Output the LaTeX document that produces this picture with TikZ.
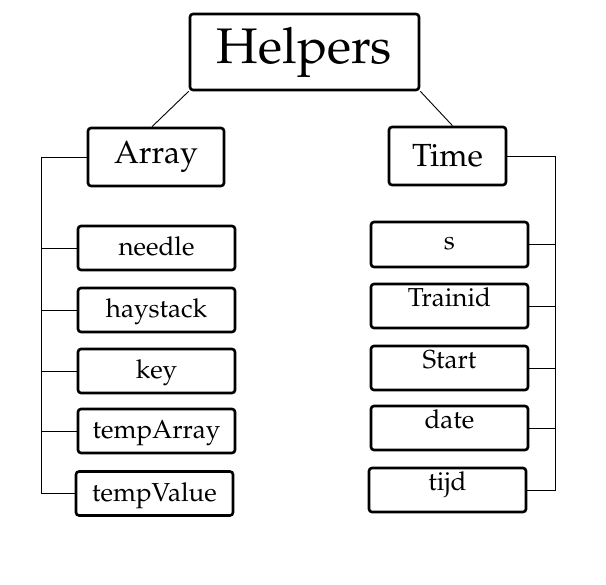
\documentclass[tikz,border=0pt]{standalone}
\usepackage[T1]{fontenc}
\usepackage{mathpazo}
\usepackage{tikz}
\usetikzlibrary{positioning,calc}

\begin{document}
\begin{tikzpicture}[
  x=1pt, y=-1pt,
  hbox/.style={rectangle, rounded corners=3pt, draw=black, fill=white,
               line width=2.6pt, inner sep=0pt, align=center},
  topbox/.style={hbox, minimum width=229pt, minimum height=76pt,
                 font=\fontsize{50}{56}\selectfont},
  grpbox/.style={hbox, minimum height=58pt, font=\fontsize{32}{36}\selectfont},
  itembox/.style={hbox, minimum width=157pt, minimum height=44pt,
                  text height=16pt, text depth=0pt,
                  font=\fontsize{26}{30}\selectfont},
  ritembox/.style={itembox, text depth=15pt},
  link/.style={line width=0.9pt, color=black},
]
  \useasboundingbox (0,0) rectangle (606,585);

  % Root
  \node[topbox] (helpers) at (304.5,52) {Helpers};

  % Groups
  \node[grpbox, minimum width=136pt] (array) at (156,157) {Array};
  \node[grpbox, minimum width=117pt] (time) at (447.5,156) {Time};

  % Array members
  \node[itembox] (needle) at (156.5,248) {needle};
  \node[itembox] (haystack) at (156.5,310) {haystack};
  \node[itembox] (key) at (156.5,371) {key};
  \node[itembox] (temparray) at (156.5,431) {tempArray};
  \node[itembox] (tempvalue) at (154.5,493.5) {tempValue};

  % Time members
  \node[itembox, minimum height=45pt, text height=13pt, text depth=2pt] (s) at (449.5,244.5) {s};
  \node[ritembox] (trainid) at (449.5,306) {Trainid};
  \node[ritembox] (start) at (449.5,368) {Start};
  \node[ritembox] (date) at (449.5,428) {date};
  \node[ritembox] (tijd) at (447.5,490) {tijd};

  % Root links
  \draw[link] (helpers.south west) -- ([xshift=-4pt]array.north);
  \draw[link] (helpers.south east) -- ([xshift=5pt]time.north);

  % Buses
  \coordinate (lbus) at (41,157);
  \coordinate (rbus) at (555,156);
  \draw[link] (array.west) -- (lbus) |- (tempvalue.west);
  \draw[link] (time.east) -- (rbus) |- (tijd.east);
  \foreach \n in {needle,haystack,key,temparray}
    \draw[link] (lbus |- \n.west) -- (\n.west);
  \foreach \n in {s,trainid,start,date}
    \draw[link] (rbus |- \n.east) -- (\n.east);
\end{tikzpicture}
\end{document}
